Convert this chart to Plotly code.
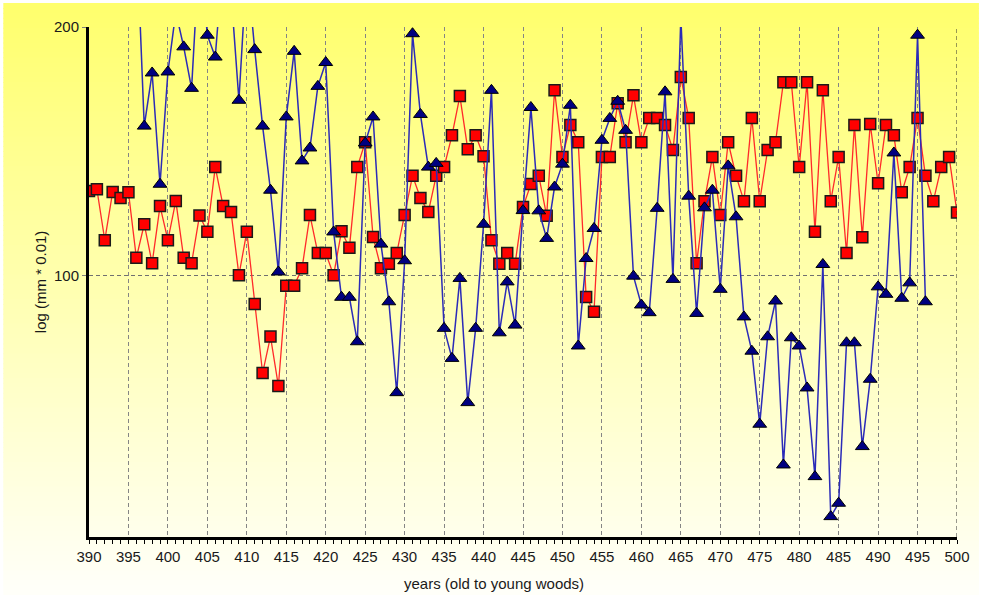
import plotly.graph_objects as go

# ---------------- data ----------------
years_red = list(range(390, 501))
red_values = [
    134, 134.7, 114.2, 133.6, 131.2, 133.5, 107.1, 120.6, 104.9, 127.9,
    114.2, 130, 107.1, 104.9, 124.1, 117.6, 143.6, 127.9, 125.5, 100.1,
    117.6, 88.5, 60.7, 75.4, 55.5, 95.8, 95.8, 102.9, 124.3, 109,
    109, 100.1, 117.8, 111.1, 143.6, 153.6, 115.5, 102.9, 104.7, 109,
    124.3, 140.1, 131.2, 125.5, 140.1, 143.6, 156.4, 172.2, 150.8, 156.4,
    148, 114.2, 104.7, 109, 104.7, 127.5, 136.8, 140.1, 124, 174.5,
    147.7, 160.5, 153.6, 91.3, 85.4, 147.7, 147.7, 169.3, 153.6, 172.5,
    153.6, 163.4, 163.4, 160.5, 150.5, 179.9, 163.4, 104.9, 129.9, 147.7,
    124.3, 153.6, 140.1, 129.9, 163.4, 129.9, 150.5, 153.6, 177.8, 177.8,
    143.6, 177.8, 117.6, 174.5, 129.9, 147.7, 109, 160.5, 115.4, 161,
    137.1, 160.5, 156.4, 133.5, 143.6, 163.4, 140.1, 129.9, 143.6, 147.7,
    125.3,
]

years_blue = list(range(396, 497))
blue_values = [
    240, 160.1, 181.5, 136.7, 181.9, 206, 192, 175.3, 232, 196.7,
    187.9, 228, 214, 170.5, 225, 190.9, 160.1, 134.3, 101.4, 163.8,
    190.2, 146.1, 151.3, 176.1, 185.7, 117.5, 91.2, 91.2, 73.3, 153.3,
    163.8, 112.6, 89.4, 52.8, 105.9, 197.3, 164.8, 143.6, 145.1, 78.7,
    66.6, 98.8, 48.8, 78.7, 120.6, 174.5, 76.9, 97.4, 80, 126.1,
    167.6, 126, 114.9, 135.6, 144.8, 168.5, 71.6, 106.8, 118.9, 154.4,
    163.2, 170.1, 158.4, 99.7, 88.1, 85, 127, 173.9, 98.4, 204,
    131.9, 84.7, 127.2, 134.3, 94.4, 144.1, 123.6, 83.3, 69.5, 40.1,
    75.3, 89.7, 23.7, 74.9, 71.6, 54.7, 19, 104.4, 2.9, 8.3,
    72.9, 72.9, 31.1, 58.2, 95.4, 92.4, 149.3, 90.8, 97, 196.7,
    89.4,
]

x_ticks = list(range(390, 501, 5))
y_ticks = [100, 200]

# ---------------- figure ----------------
W, H = 982, 595
ML, MR, MT, MB = 89, 22, 27, 58
PW, PH = W - ML - MR, H - MT - MB

def px_to_paper_y(p):
    return (H - MB - p) / PH

def px_to_paper_x(p):
    return (p - ML) / PW

fig = go.Figure()

fig.add_trace(go.Scatter(
    x=years_red, y=red_values, mode="lines+markers",
    line=dict(color="#FF2A2A", width=1.3),
    marker=dict(symbol="square", size=11, color="#FF0000",
                line=dict(color="#1a1a1a", width=1.5)),
    showlegend=False, cliponaxis=True,
))
fig.add_trace(go.Scatter(
    x=years_blue, y=blue_values, mode="lines+markers",
    line=dict(color="#2B2BB8", width=1.5),
    marker=dict(symbol="triangle-up", size=12, color="#000080",
                line=dict(color="#000000", width=1)),
    showlegend=False, cliponaxis=True,
))

# gradient background (yellow to near white) using thin strips
shapes = []
N = 120
top_px, bot_px = 3, H
left_px, right_px = 3, W
for i in range(N):
    t0 = top_px + (bot_px - top_px) * i / N
    t1 = top_px + (bot_px - top_px) * (i + 1) / N + 1
    f = (i + 0.5) / N
    b = int(round(108 + (250 - 108) * f))
    shapes.append(dict(
        type="rect", xref="paper", yref="paper", layer="below",
        x0=px_to_paper_x(left_px), x1=px_to_paper_x(right_px),
        y0=px_to_paper_y(t1), y1=px_to_paper_y(t0),
        fillcolor=f"rgb(255,255,{b})", line=dict(width=0),
    ))

# dashed right border
shapes.append(dict(
    type="line", xref="x", yref="paper", x0=500, x1=500, y0=0, y1=1,
    line=dict(color="#303030", width=1, dash="4px,3px"), layer="above",
))

fig.update_layout(
    width=W, height=H,
    margin=dict(l=ML, r=MR, t=MT, b=MB, pad=0),
    paper_bgcolor="white",
    plot_bgcolor="rgba(0,0,0,0)",
    font=dict(family="Liberation Sans, Arial, sans-serif", size=15, color="#1a1a1a"),
    shapes=shapes,
    showlegend=False,
    xaxis=dict(
        range=[390, 500], tickvals=x_ticks, ticktext=[str(v) for v in x_ticks],
        showgrid=True, gridcolor="#858585", gridwidth=1, griddash="4px,3px",
        showline=True, linecolor="black", linewidth=3,
        ticks="outside", ticklen=4, tickcolor="black", tickwidth=1,
        minor=dict(dtick=1, ticks="outside", ticklen=4, tickcolor="black",
                   tickwidth=1, showgrid=False),
        zeroline=False, tickfont=dict(size=15),
    ),
    yaxis=dict(
        range=[-5.3, 200], tickvals=y_ticks, ticktext=[str(v) for v in y_ticks],
        showgrid=True, gridcolor="#707070", gridwidth=1, griddash="4px,3px",
        showline=True, linecolor="black", linewidth=3,
        ticks="outside", ticklen=4, tickcolor="#808080",
        zeroline=False, tickfont=dict(size=15),
    ),
    annotations=[
        dict(text="years (old to young woods)", xref="paper", yref="paper",
             x=px_to_paper_x(495), y=px_to_paper_y(583),
             xanchor="center", yanchor="middle", showarrow=False,
             font=dict(size=15)),
        dict(text="log (mm * 0.01)", xref="paper", yref="paper",
             x=px_to_paper_x(40), y=0.5, textangle=-90,
             xanchor="center", yanchor="middle", showarrow=False,
             font=dict(size=15)),
    ],
)

fig.write_html(
    "out.html",
    config={"displayModeBar": False},
    post_script="document.body.style.margin='0';document.body.style.padding='0';document.body.style.overflow='hidden';",
)
